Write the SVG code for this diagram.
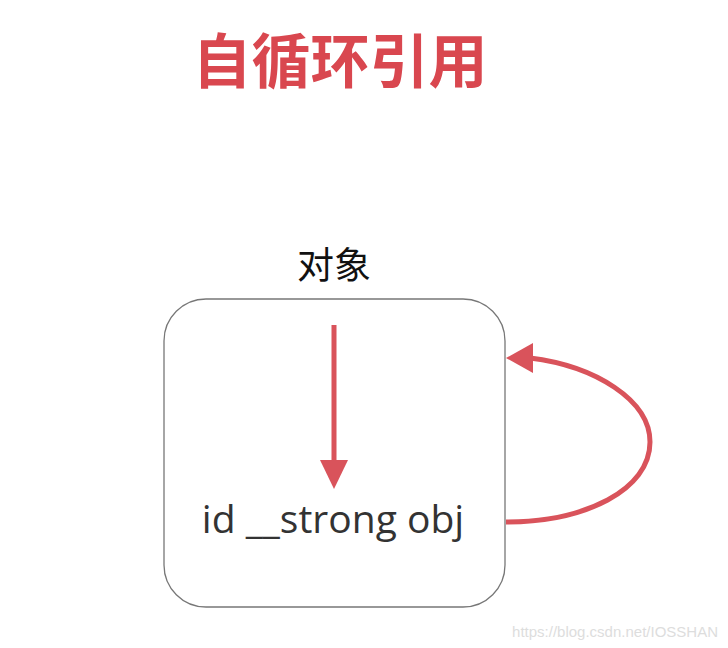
<svg xmlns="http://www.w3.org/2000/svg" width="728" height="648" viewBox="0 0 728 648">
<defs>
<style>
.red{stroke:#d9535b;fill:none;stroke-width:5;}
.head{fill:#d9535b;}
.cn{font-family:"Noto Sans CJK SC","Noto Sans",sans-serif;}
.lbl{font-family:"Open Sans","Noto Sans",sans-serif;}
</style>
</defs>
<rect width="728" height="648" fill="#ffffff"/>
<g id="title">
<text x="340" y="83" text-anchor="middle" class="cn" font-size="59" font-weight="bold" fill="#d9474f">自循环引用</text>
</g>
<g id="object">
<text x="334" y="279" text-anchor="middle" class="cn" font-size="37" fill="#111">对象</text>
<rect x="164" y="299" width="341" height="308" rx="42" ry="42" fill="#fff" stroke="#777" stroke-width="1.3"/>
<text x="333" y="533" text-anchor="middle" class="lbl" font-size="39" fill="#333">id __strong obj</text>
</g>
<g id="connectors">
<path class="red" d="M334,325 L334,462"/>
<polygon class="head" points="320,460 348,460 334,489"/>
<path class="red" d="M506,522 C585,522 650,490 650,442 C650,400 595,366 530,358"/>
<polygon class="head" points="533,343 533,373 506,358"/>
</g>
<text x="718" y="637" text-anchor="end" font-family="Liberation Sans,sans-serif" font-size="15" fill="#dddddd">https://blog.csdn.net/IOSSHAN</text>
</svg>
